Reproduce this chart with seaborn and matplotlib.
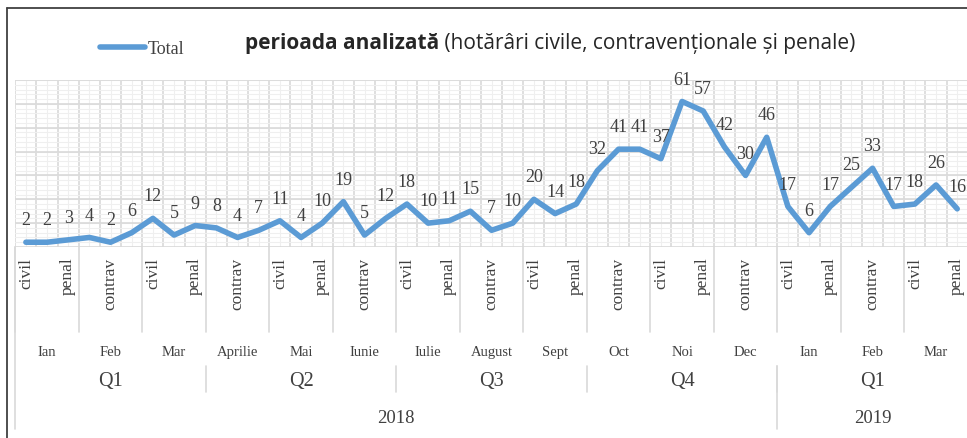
import numpy as np
import pandas as pd
import matplotlib
matplotlib.use('Agg')
import matplotlib.pyplot as plt
import matplotlib.transforms as mtrans
import seaborn as sns

# data
values = [2, 2, 3, 4, 2, 6, 12, 5, 9, 8, 4, 7, 11, 4, 10, 19, 5, 12,
          18, 10, 11, 15, 7, 10, 20, 14, 18, 32, 41, 41, 37, 61, 57, 42, 30, 46,
          17, 6, 17, 25, 33, 17, 18, 26, 16]
kinds = ['civil', 'contrav', 'penal']
months = ['Ian', 'Feb', 'Mar', 'Aprilie', 'Mai', 'Iunie', 'Iulie', 'August',
          'Sept', 'Oct', 'Noi', 'Dec', 'Ian', 'Feb', 'Mar']
quarters = ['Q1', 'Q2', 'Q3', 'Q4', 'Q1']
years = ['2018', '2019']
months_in_year = [12, 3]

df = pd.DataFrame({'idx': np.arange(len(values)), 'value': values})
df['kind'] = [kinds[i % 3] for i in df['idx']]
df['month'] = [months[i // 3] for i in df['idx']]

sns.set_style('white')
plt.rcParams['font.family'] = ['Liberation Serif', 'DejaVu Serif']

blue = '#5B9BD5'
txt = '#404040'
W, H = 967, 439

fig = plt.figure(figsize=(W / 100, H / 100), dpi=100)
ax = fig.add_axes([15.3 / W, 1 - 248 / H, 952.5 / W, 167 / H])

sns.lineplot(data=df, x='idx', y='value', ax=ax, color=blue, linewidth=4,
             label='Total', legend=False)

ax.set_xlim(-0.5, len(values) - 0.5)
ax.set_ylim(0, 70)

# grid like excel: major at category borders, minor at points
for x in np.arange(-0.5, len(values), 1):
    ax.axvline(x, color='#D9D9D9', lw=1.2, zorder=0)
for x in df['idx']:
    ax.axvline(x, color='#EFEFEF', lw=0.8, zorder=0)
for y in np.arange(0, 71, 2):
    ax.axhline(y, color='#EFEFEF', lw=0.8, zorder=0)
for y in np.arange(0, 71, 10):
    ax.axhline(y, color='#D9D9D9', lw=1.2, zorder=0)
for s in ax.spines.values():
    s.set_visible(False)

ax.set_yticks([])
ax.set_xticks(df['idx'][::2])
ax.set_xticklabels(df['kind'][::2], rotation=90, fontsize=12.5, color=txt)
ax.tick_params(axis='x', which='both', length=0, pad=7)
ax.set_xlabel('')
ax.set_ylabel('')

# data labels
for i, v in zip(df['idx'], df['value']):
    ax.annotate(str(v), (i, v), xytext=(0, 10), textcoords='offset points',
                ha='center', va='bottom', fontsize=13, color=txt)

# multi-level category axis
tr = mtrans.blended_transform_factory(ax.transData, ax.transAxes)
sep = '#D9D9D9'
for m in range(len(months)):
    ax.plot([3 * m - 0.5] * 2, [0, -0.51], transform=tr, color=sep, lw=1.2, clip_on=False)
    ax.text(3 * m + 1, -0.623, months[m], transform=tr, ha='center', va='center',
            fontsize=10.5, color=txt)
for q in range(len(quarters)):
    if q > 0:
        ax.plot([9 * q - 0.5] * 2, [-0.713, -0.868], transform=tr, color=sep, lw=1.2, clip_on=False)
    ax.text(9 * q + 4, -0.802, quarters[q], transform=tr, ha='center', va='center',
            fontsize=14.5, color=txt)
start = 0
for y, n in zip(years, months_in_year):
    a, b = start * 3, (start + n) * 3 - 1
    ax.text((a + b) / 2, -1.018, y, transform=tr, ha='center', va='center',
            fontsize=13.5, color=txt)
    start += n
ax.plot([-0.5] * 2, [0, -1.09], transform=tr, color=sep, lw=1.2, clip_on=False)
ax.plot([35.5] * 2, [-0.713, -1.09], transform=tr, color=sep, lw=1.2, clip_on=False)

# legend
h, l = ax.get_legend_handles_labels()
fig.legend(h, l, loc='center left', bbox_to_anchor=(100 / W, 1 - 50 / H),
           frameon=False, fontsize=13, handlelength=2.5, handletextpad=0.15,
           borderpad=0, borderaxespad=0, labelcolor=txt)

# title: bold part + regular part
fig.canvas.draw()
r = fig.canvas.get_renderer()
t1 = fig.text(245 / W, 1 - 43 / H, 'perioada analizată', fontsize=15,
              fontweight='bold', family='Open Sans', va='center', color='#262626')
bb = t1.get_window_extent(r)
fig.text(bb.x1 / W, 1 - 43 / H, ' (hotărâri civile, contravenționale și penale)',
         fontsize=15, family='Open Sans', va='center', color='#262626')

# outer frame
fig.add_artist(plt.Line2D([7 / W, 7 / W], [0, 1 - 9 / H], color='#404040', lw=1.3))
fig.add_artist(plt.Line2D([7 / W, 1], [1 - 9 / H, 1 - 9 / H], color='#404040', lw=1.3))

fig.savefig('out.png', dpi=100)
